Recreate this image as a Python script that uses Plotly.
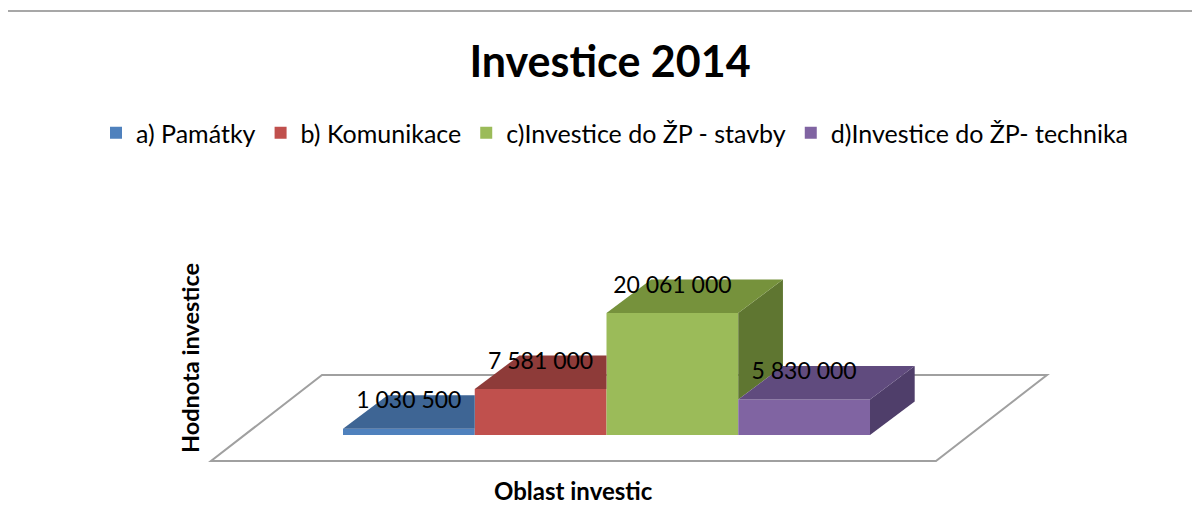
import plotly.graph_objects as go

# ---- data ----
categories = ["a) Památky", "b) Komunikace", "c)Investice do ŽP - stavby", "d)Investice do ŽP- technika"]
values = [1030500, 7581000, 20061000, 5830000]
title_text = "Investice 2014"
x_title = "Oblast investic"
y_title = "Hodnota investice"

# ---- styles ----
front_colors = ["#4F81BD", "#C0504D", "#9BBB59", "#8064A2"]
top_colors = ["#3E6594", "#8E3B39", "#76923C", "#604B7E"]
side_colors = ["#2F4D72", "#6E2D2B", "#5F7631", "#4F3E6A"]
FONT = "Lato, 'Noto Sans', sans-serif"

W, H = 1200, 531
OFF = 8                      # page offset of the figure (body margin)
PX_PER_CAT = 131.75          # horizontal pixels per category unit
BAR_LEFT_PX = 343            # page pixel of first bar left edge
BASE_PX = 435                # page pixel row of value 0
VAL_PER_PX = 164430          # value units per vertical pixel
DEPTH_DX_PX, DEPTH_DY_PX = 44.7, 33.5
FLOOR_FRONT_PX = 26          # floor front edge below bar base
FLOOR_DX_PX, FLOOR_DY_PX = 111, 86


def px_x(px):
    return -0.5 + (px - BAR_LEFT_PX) / PX_PER_CAT


def px_y(py):
    return (BASE_PX - py) * VAL_PER_PX


def paper_x(px):
    return (px - OFF) / W


def paper_y(py):
    return 1 - (py - OFF) / H


DX = DEPTH_DX_PX / PX_PER_CAT
DY = DEPTH_DY_PX * VAL_PER_PX

fig = go.Figure()

# front faces
for i, (cat, v) in enumerate(zip(categories, values)):
    fig.add_trace(go.Bar(x=[i], y=[v], width=1, name=cat,
                         marker=dict(color=front_colors[i], line=dict(width=0)),
                         hoverinfo="skip"))

# tops and visible sides
n = len(values)
for i, v in enumerate(values):
    nxt = values[i + 1] if i + 1 < n else 0
    # side face (visible above next bar)
    if v > nxt:
        xs = [i + 0.5, i + 0.5, i + 0.5 + DX, i + 0.5 + DX, i + 0.5]
        ys = [nxt, v, v + DY, nxt + DY, nxt]
        fig.add_trace(go.Scatter(x=xs, y=ys, mode="lines", fill="toself",
                                 fillcolor=side_colors[i], line=dict(width=0),
                                 showlegend=False, hoverinfo="skip"))
    # top face, clipped by next bar's front
    if nxt <= v:
        xs = [i - 0.5, i + 0.5, i + 0.5 + DX, i - 0.5 + DX]
        ys = [v, v, v + DY, v + DY]
    elif nxt >= v + DY:
        xs = [i - 0.5, i + 0.5, i + 0.5, i - 0.5 + DX]
        ys = [v, v, v + DY, v + DY]
    else:
        xh = i + 0.5 + (nxt - v) / DY * DX
        xs = [i - 0.5, i + 0.5, i + 0.5, xh, i + 0.5 + DX, i - 0.5 + DX]
        ys = [v, v, nxt, nxt, v + DY, v + DY]
    fig.add_trace(go.Scatter(x=xs + [xs[0]], y=ys + [ys[0]], mode="lines", fill="toself",
                             fillcolor=top_colors[i], line=dict(width=0),
                             showlegend=False, hoverinfo="skip"))

# data labels
fig.add_trace(go.Scatter(
    x=list(range(n)), y=[v + DY - 7.5 * VAL_PER_PX for v in values],
    mode="text", text=[f"{v:,}".replace(",", " ") for v in values],
    textposition="middle center", textfont=dict(family=FONT, size=23, color="#000000"),
    showlegend=False, hoverinfo="skip", cliponaxis=False))

# floor
fl_front_y = px_y(BASE_PX + FLOOR_FRONT_PX)
fl_back_y = px_y(BASE_PX + FLOOR_FRONT_PX - FLOOR_DY_PX)
fx0, fx1 = px_x(211), px_x(936)
fdx = FLOOR_DX_PX / PX_PER_CAT
fig.add_shape(type="path", layer="below", xref="x", yref="y",
              path=f"M{fx0},{fl_front_y} L{fx1},{fl_front_y} L{fx1 + fdx},{fl_back_y} "
                   f"L{fx0 + fdx},{fl_back_y} Z",
              line=dict(color="#A0A0A0", width=2), fillcolor="white")

# chart frame
fig.add_shape(type="rect", xref="paper", yref="paper",
              x0=paper_x(3), x1=1.05, y0=-0.05, y1=paper_y(11),
              line=dict(color="#8A8A8A", width=1.5), fillcolor="rgba(0,0,0,0)")

fig.add_annotation(text=y_title, xref="paper", yref="paper", x=paper_x(190), y=paper_y(358),
                   textangle=-90, showarrow=False, xanchor="center", yanchor="middle",
                   font=dict(family=FONT, size=23.5, color="#000000", weight=700))
fig.add_annotation(text=x_title, xref="paper", yref="paper", x=paper_x(573), y=paper_y(490),
                   showarrow=False, xanchor="center", yanchor="middle",
                   font=dict(family=FONT, size=24, color="#000000", weight=700))

fig.update_layout(
    width=W, height=H,
    margin=dict(l=0, r=0, t=0, b=0),
    paper_bgcolor="white", plot_bgcolor="white",
    barmode="overlay",
    title=dict(text=title_text, x=paper_x(610), y=paper_y(62), xanchor="center", yanchor="middle",
               font=dict(family=FONT, size=43, color="#000000", weight=700)),
    legend=dict(orientation="h", x=paper_x(615), y=paper_y(133), xanchor="center", yanchor="middle",
                font=dict(family=FONT, size=25, color="#000000"), bgcolor="rgba(0,0,0,0)",
                itemclick=False, itemdoubleclick=False),
    xaxis=dict(visible=False, range=[px_x(OFF), px_x(W + OFF)], fixedrange=True),
    yaxis=dict(visible=False, range=[px_y(H + OFF), px_y(OFF)], fixedrange=True),
    showlegend=True,
)

fig.write_html("out.html")
